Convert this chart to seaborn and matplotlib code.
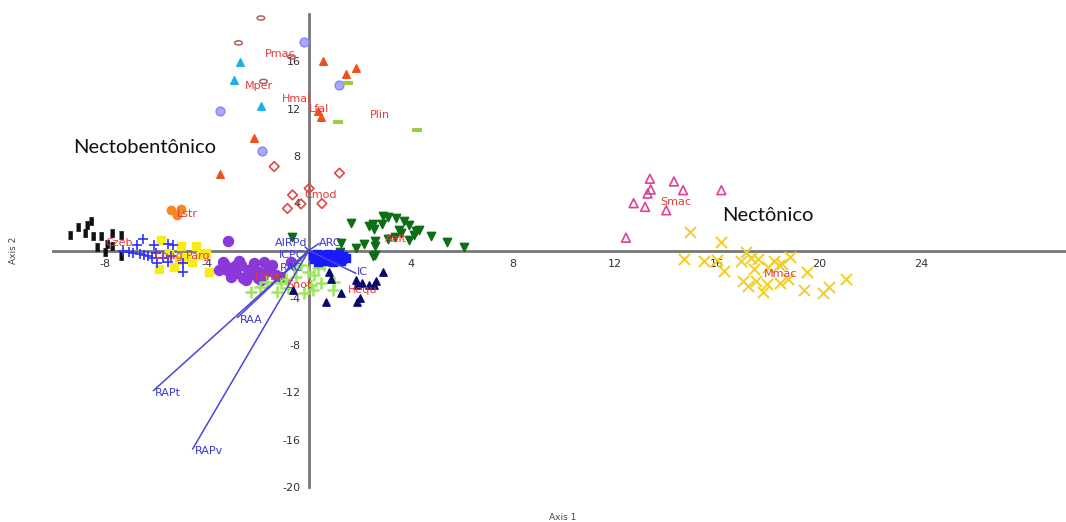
import numpy as np
import pandas as pd
import matplotlib
matplotlib.use("Agg")
import matplotlib.pyplot as plt
import seaborn as sns

# ---------------- data ----------------
czeb_x = [-9.37, -9.05, -8.78, -8.68, -8.55, -8.45, -8.13, -8.31, -7.73, -7.37, -7.7, -7.37, -8.0, -7.9]
czeb_y = [1.33, 1.98, 1.47, 2.19, 2.47, 1.25, 1.25, 0.28, 1.47, 1.33, 0.4, -0.43, -0.1, 0.55]
lstr_x = [-5.39, -5.02, -5.18]
lstr_y = [3.46, 3.52, 3.04]
cbag_x = [-6.75, -6.49, -6.07, -5.54, -5.31, -7.05, -6.9, -6.46, -6.14, -5.94, -5.54, -4.95, -4.95, -6.6, -6.3, -5.4, -7.3, -6.0, -5.7]
cbag_y = [0.43, 0.99, 0.48, 0.57, 0.48, -0.14, -0.2, -0.37, -0.65, -1.08, -0.94, -1.84, -1.08, -0.3, -0.5, -0.5, -0.05, -0.2, -0.6]
parg_x = [-5.8, -5.87, -5.28, -5.02, -4.82, -4.43, -4.24, -4.05, -3.91, -5.48, -5.1, -4.6]
parg_y = [0.91, -1.56, -1.36, 0.34, -0.51, 0.34, -0.37, -0.23, -1.79, -0.23, -0.8, -1.0]
hmar_x = [-3.16, -3.38, -3.19, -2.9, -2.67, -2.4, -2.34, -2.14, -1.95, -1.75, -1.6, -1.88, -2.6, -2.86, -2.47, -3.52, -3.06, -1.29, -0.71, -1.1, -2.2, -1.45, -3.3, -2.0, -2.75]
hmar_y = [0.77, -0.99, -1.65, -1.3, -1.22, -1.65, -2.07, -1.08, -1.79, -0.94, -1.7, -2.49, -2.3, -1.93, -2.49, -1.65, -2.2, -2.07, -0.94, -2.2, -1.4, -1.2, -1.2, -2.3, -0.9]
snot_x = [-1.1, -0.9, -0.51, -0.31, -0.05, 0.21, 0.47, 0.08, 0.34, -0.18, 0.99, 0.93, -1.23, -0.8, -2.27, -1.63, 0.6, -0.6, 0.15, -1.9]
snot_y = [-2.77, -2.4, -2.2, -1.22, -1.79, -2.07, -2.78, -2.92, -1.5, -3.63, -2.64, -3.35, -3.49, -3.2, -3.49, -2.64, -1.2, -1.5, -3.3, -3.1]
hequ_x = [0.8, 1.25, 1.9, 2.1, 2.56, 2.89, 0.67, 1.9, 0.86, -0.61, 2.37, 2.63, 2.01, 1.84]
hequ_y = [-1.79, -3.63, -2.92, -2.77, -2.92, -1.79, -4.34, -4.34, -2.41, -3.35, -2.92, -2.58, -4.0, -2.49]
aalt_x = [1.65, 2.37, 2.5, 2.89, 3.11, 3.41, 3.74, 3.93, 2.85, 2.56, 3.54, 3.61, 4.2, 4.13, 4.78, 5.41, 6.09, 3.93, 3.38, 3.11, 2.59, 2.59, 2.17, 1.84, 1.25, 1.23, 2.59, 2.52, 4.3, -0.65]
aalt_y = [2.33, 2.04, 2.2, 2.89, 2.81, 2.75, 2.47, 2.13, 2.24, 1.85, 1.76, 1.47, 1.62, 1.33, 1.25, 0.71, 0.28, 0.91, 1.11, 1.0, 0.77, 0.34, 0.54, 0.2, 0.62, -0.09, -0.37, -0.5, 1.75, 1.15]
blob_x = [0.15, 0.3, 0.45, 0.6, 0.75, 0.9, 1.05, 1.2, 1.35, 0.2, 0.4, 0.55, 0.7, 0.85, 1.0, 1.15, 1.3, 0.35, 0.65, 0.95, 1.25, 1.45]
blob_y = [-0.35, -0.3, -0.4, -0.35, -0.3, -0.4, -0.35, -0.3, -0.45, -0.7, -0.75, -0.65, -0.75, -0.7, -0.65, -0.75, -0.7, -0.95, -0.9, -0.95, -0.9, -0.6]
pmac_x = [-1.88, -2.76, -0.68, -1.78]
pmac_y = [19.66, 17.56, 16.37, 14.3]
mper_x = [-2.7, -2.93, -1.87]
mper_y = [15.9, 14.4, 12.2]
hmal_x = [-0.21, 1.19, -3.5, -1.82]
hmal_y = [17.6, 14.0, 11.8, 8.4]
lfal_x = [0.56, 1.44, 1.85, 0.46, -2.14, -3.49, 0.34]
lfal_y = [16.0, 14.9, 15.4, 11.3, 9.5, 6.5, 11.8]
plin_x = [1.53, 1.16, 4.24]
plin_y = [14.2, 10.9, 10.2]
cmod_x = [-1.36, 1.2, 0.01, -0.64, 0.51, -0.84, -0.31]
cmod_y = [7.1, 6.55, 5.25, 4.7, 3.97, 3.55, 3.94]
smac_x = [13.37, 14.31, 13.4, 13.28, 14.67, 16.17, 12.73, 13.18, 14.01, 12.43]
smac_y = [6.07, 5.84, 5.16, 4.82, 5.1, 5.1, 4.0, 3.69, 3.4, 1.08]
mmac_x = [14.95, 16.16, 14.69, 15.47, 16.0, 16.29, 17.15, 16.94, 17.32, 17.43, 18.0, 18.25, 18.43, 18.55,
          18.87, 19.54, 17.03, 17.23, 17.54, 17.82, 17.95, 18.47, 18.78, 19.42, 20.14, 20.38, 21.06, 17.6]
mmac_y = [1.56, 0.68, -0.71, -0.85, -0.8, -1.7, -0.14, -0.85, -0.6, -1.59, -1.36, -0.88, -1.22, -1.1,
          -0.54, -1.81, -2.55, -2.98, -2.61, -3.51, -2.8, -2.72, -2.38, -3.3, -3.57, -3.06, -2.41, -0.75]

species_names = ["Czeb", "Lstr", "Cbag", "Parg", "Hmar", "Snot", "Hequ", "Aalt",
                 "Pmac", "Mper", "Hmal", "Lfal", "Plin", "Cmod", "Smac", "Mmac"]
species_label_x = [-7.45, -4.75, -5.5, -4.35, -1.5, -0.4, 2.1, 3.4,
                   -1.14, -1.96, -0.5, 0.4, 2.8, 0.47, 14.4, 18.5]
species_label_y = [0.6, 3.06, -0.5, -0.5, -2.2, -2.9, -3.3, 0.94,
                   16.6, 13.9, 12.85, 12.0, 11.5, 4.7, 4.1, -1.96]

vector_names = ["AIRPd", "ICPC", "ARC", "RAC", "IC", "RAA", "RAPt", "RAPv"]
vector_x = [-0.15, -0.1, 0.4, -0.6, 1.84, -2.8, -6.1, -4.56]
vector_y = [0.3, -0.15, 0.6, -1.4, -1.93, -5.67, -11.86, -16.8]
vector_label_x = [-0.68, -0.68, 0.85, -0.68, 2.1, -2.24, -5.53, -3.93]
vector_label_y = [0.62, -0.4, 0.62, -1.5, -1.84, -5.9, -12.07, -16.97]

group_names = ["Nectobentônico", "Nectônico"]
group_x = [-9.26, 16.2]
group_y = [8.73, 2.98]

x_ticks = [-8, -4, 4, 8, 12, 16, 20, 24]
y_ticks = [-20, -16, -12, -8, -4, 4, 8, 12, 16]

# ---------------- figure ----------------
sns.set_theme(style="white")
plt.rcParams["font.family"] = ["DejaVu Sans"]

W, H = 1066, 522
fig = plt.figure(figsize=(W / 100, H / 100), dpi=100)
ax = fig.add_axes([53 / W, 1 - 487 / H, 1 - 53 / W, (487 - 14) / H])

bar_marker = [(-0.5, -1), (0.5, -1), (0.5, 1), (-0.5, 1)]
ell = [(np.cos(t), 0.55 * np.sin(t)) for t in np.linspace(0, 2 * np.pi, 25)]

def pts(xs, ys, marker, color, size, hollow=False, lw=1.0, edge=None, z=3):
    df = pd.DataFrame({"x": xs, "y": ys})
    kw = dict(marker=marker, s=size, linewidth=lw, zorder=z, ax=ax, legend=False)
    if hollow:
        kw.update(color=color, facecolor="none", edgecolor=color)
    elif marker in ("+", "x", "_", "|"):
        kw.update(color=color)
    else:
        kw.update(color=color, edgecolor=edge if edge else color)
    sns.scatterplot(data=df, x="x", y="y", **kw)

pts(czeb_x, czeb_y, bar_marker, "#111111", 38, lw=0.5)
pts(lstr_x, lstr_y, "o", "#f7861f", 36)
pts(parg_x, parg_y, "s", "#f7ec1a", 36)
pts(cbag_x, cbag_y, "+", "#3030ff", 55, lw=1.2)
pts(hmar_x, hmar_y, "o", "#8a38d8", 52)
pts(snot_x, snot_y, "+", "#9be85a", 70, lw=1.8)
pts(hequ_x, hequ_y, "^", "#0a0a6e", 28)
pts(aalt_x, aalt_y, "v", "#0e6e14", 36)
pts(blob_x, blob_y, "s", "#1a1aff", 40)
pts(pmac_x, pmac_y, ell, "#b0605c", 30, hollow=True, lw=1.1)
pts(mper_x, mper_y, "^", "#22aee6", 30)
pts(hmal_x, hmal_y, "o", "#a8a8ff", 40, edge="#8686f0")
pts(lfal_x, lfal_y, "^", "#f0501a", 30)
pts(plin_x, plin_y, "_", "#98cc3a", 45, lw=2.8)
pts(cmod_x, cmod_y, "D", "#e04848", 24, hollow=True, lw=1.2)
pts(smac_x, smac_y, "^", "#e0409a", 40, hollow=True, lw=1.2)
pts(mmac_x, mmac_y, "x", "#f2cd2a", 64, lw=1.4)

# vectors
for vx, vy in zip(vector_x, vector_y):
    ax.plot([0, vx], [0, vy], color="#4646dc", lw=1.1, zorder=5)
for name, lx, ly in zip(vector_names, vector_label_x, vector_label_y):
    ax.text(lx, ly, name, color="#3a3ad0", fontsize=8, ha="center", va="center", zorder=6)

for name, lx, ly in zip(species_names, species_label_x, species_label_y):
    ax.text(lx, ly, name, color="#e23a3a", fontsize=8, ha="center", va="center", zorder=6)

for name, gx, gy in zip(group_names, group_x, group_y):
    ax.text(gx, gy, name, color="#111111", fontsize=14.5, family=["Lato", "DejaVu Sans"],
            ha="left", va="center", zorder=6)

# axes through the origin
ax.set_xlim(-10.03, 29.68)
ax.set_ylim(-20, 20)
for s in ("top", "right"):
    ax.spines[s].set_visible(False)
for s in ("left", "bottom"):
    ax.spines[s].set_position(("data", 0))
    ax.spines[s].set_color("#777777")
    ax.spines[s].set_linewidth(2)
    ax.spines[s].set_zorder(2)
ax.set_xticks(x_ticks)
ax.set_yticks(y_ticks)
ax.set_xticklabels([str(t) for t in x_ticks])
ax.set_yticklabels([str(t) for t in y_ticks])
ax.tick_params(axis="both", direction="out", length=4, width=1, color="#444444",
               labelcolor="#333333", labelsize=8, pad=2)
ax.set_xlabel("")
ax.set_ylabel("")
ax.patch.set_alpha(0)

fig.text(563 / W, 1 - 517 / H, "Axis 1", fontsize=6.5, color="#444444", ha="center", va="center")
fig.text(13 / W, 1 - 250 / H, "Axis 2", fontsize=6.5, color="#444444", ha="center", va="center",
         rotation=90)

fig.savefig("out.png", dpi=100)
